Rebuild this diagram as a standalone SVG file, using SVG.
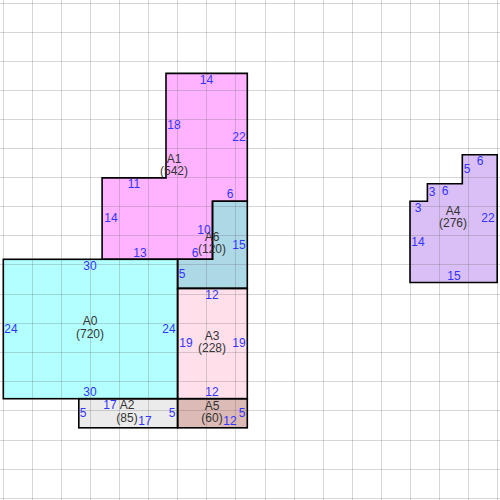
<svg xmlns="http://www.w3.org/2000/svg" width="500" height="500" viewBox="0 0 500 500">
<style>
.sh{stroke:#000;stroke-width:1.6;stroke-linejoin:miter}
.gl{stroke:#666;stroke-opacity:0.27;stroke-width:1}
text{font-family:"Liberation Sans",Arial,sans-serif;font-size:12px;text-anchor:middle}
.d{fill:#3333ff}
.n{fill:#333}
</style>
<rect width="500" height="500" fill="#fff"/>
<g id="fills">
<polygon points="166,73.4 247.3,73.4 247.3,201.2 212.5,201.2 212.5,259.3 102.1,259.3 102.1,177.9 166,177.9" fill="#ffb3ff"/>
<rect x="3.3" y="259.3" width="174.3" height="139.4" fill="#b3ffff"/>
<polygon points="212.5,201.2 247.3,201.2 247.3,288.4 177.6,288.4 177.6,259.3 212.5,259.3" fill="#add8e6"/>
<rect x="177.6" y="288.4" width="69.7" height="110.3" fill="#ffe0ea"/>
<rect x="78.8" y="398.7" width="98.8" height="29.1" fill="#ebebeb"/>
<rect x="177.6" y="398.7" width="69.7" height="29.1" fill="#dcbab5"/>
<polygon points="410,201.2 427.4,201.2 427.4,183.8 462.3,183.8 462.3,154.7 497.2,154.7 497.2,282.5 410,282.5" fill="#d9bff5"/>
</g>
<g id="grid" class="gl">
<path d="M3.5 0V500M32.5 0V500M61.5 0V500M90.5 0V500M119.5 0V500M148.5 0V500M177.5 0V500M206.5 0V500M235.5 0V500M265.5 0V500M294.5 0V500M323.5 0V500M352.5 0V500M381.5 0V500M410.5 0V500M439.5 0V500M468.5 0V500M497.5 0V500"/>
<path d="M0 3.5H500M0 32.5H500M0 61.5H500M0 90.5H500M0 119.5H500M0 148.5H500M0 177.5H500M0 206.5H500M0 235.5H500M0 264.5H500M0 294.5H500M0 323.5H500M0 352.5H500M0 381.5H500M0 410.5H500M0 440.5H500M0 469.5H500M0 498.5H500"/>
</g>
<g id="A1">
<polygon class="sh" fill="none" points="166,73.4 247.3,73.4 247.3,201.2 212.5,201.2 212.5,259.3 102.1,259.3 102.1,177.9 166,177.9"/>
<text class="d" x="206.5" y="84">14</text>
<text class="d" x="174" y="129">18</text>
<text class="d" x="239" y="141">22</text>
<text class="n" x="174" y="163">A1</text>
<text class="n" x="174" y="175">(542)</text>
<text class="d" x="134" y="188">11</text>
<text class="d" x="230" y="198">6</text>
<text class="d" x="111" y="222">14</text>
<text class="d" x="204" y="234">10</text>
<text class="d" x="140" y="257">13</text>
<text class="d" x="195" y="257">6</text>
</g>
<g id="A0">
<rect class="sh" fill="none" x="3.3" y="259.3" width="174.3" height="139.4"/>
<text class="d" x="90" y="270">30</text>
<text class="d" x="11" y="333">24</text>
<text class="n" x="90" y="325">A0</text>
<text class="n" x="90" y="338">(720)</text>
<text class="d" x="169" y="333">24</text>
<text class="d" x="90" y="396">30</text>
</g>
<g id="A6">
<polygon class="sh" fill="none" points="212.5,201.2 247.3,201.2 247.3,288.4 177.6,288.4 177.6,259.3 212.5,259.3"/>
<text class="n" x="212" y="241">A6</text>
<text class="n" x="212" y="253">(120)</text>
<text class="d" x="239" y="249">15</text>
<text class="d" x="182" y="278">5</text>
</g>
<g id="A3">
<rect class="sh" fill="none" x="177.6" y="288.4" width="69.7" height="110.3"/>
<text class="d" x="212" y="299">12</text>
<text class="d" x="186" y="347">19</text>
<text class="n" x="212" y="340">A3</text>
<text class="n" x="212" y="352">(228)</text>
<text class="d" x="239" y="347">19</text>
<text class="d" x="212" y="396">12</text>
</g>
<g id="A2">
<rect class="sh" fill="none" x="78.8" y="398.7" width="98.8" height="29.1"/>
<text class="d" x="83" y="417">5</text>
<text class="d" x="110" y="409">17</text>
<text class="n" x="127" y="409">A2</text>
<text class="n" x="127" y="422">(85)</text>
<text class="d" x="145" y="425">17</text>
<text class="d" x="172" y="417">5</text>
</g>
<g id="A5">
<rect class="sh" fill="none" x="177.6" y="398.7" width="69.7" height="29.1"/>
<text class="n" x="212" y="410">A5</text>
<text class="n" x="212" y="422">(60)</text>
<text class="d" x="230" y="425">12</text>
<text class="d" x="242" y="417">5</text>
</g>
<g id="A4">
<polygon class="sh" fill="none" points="410,201.2 427.4,201.2 427.4,183.8 462.3,183.8 462.3,154.7 497.2,154.7 497.2,282.5 410,282.5"/>
<text class="d" x="480" y="165">6</text>
<text class="d" x="467" y="173">5</text>
<text class="d" x="432" y="196">3</text>
<text class="d" x="445" y="195">6</text>
<text class="d" x="418" y="212">3</text>
<text class="n" x="453" y="215">A4</text>
<text class="n" x="453" y="227">(276)</text>
<text class="d" x="488" y="222">22</text>
<text class="d" x="418" y="246">14</text>
<text class="d" x="454" y="280">15</text>
</g>
</svg>
